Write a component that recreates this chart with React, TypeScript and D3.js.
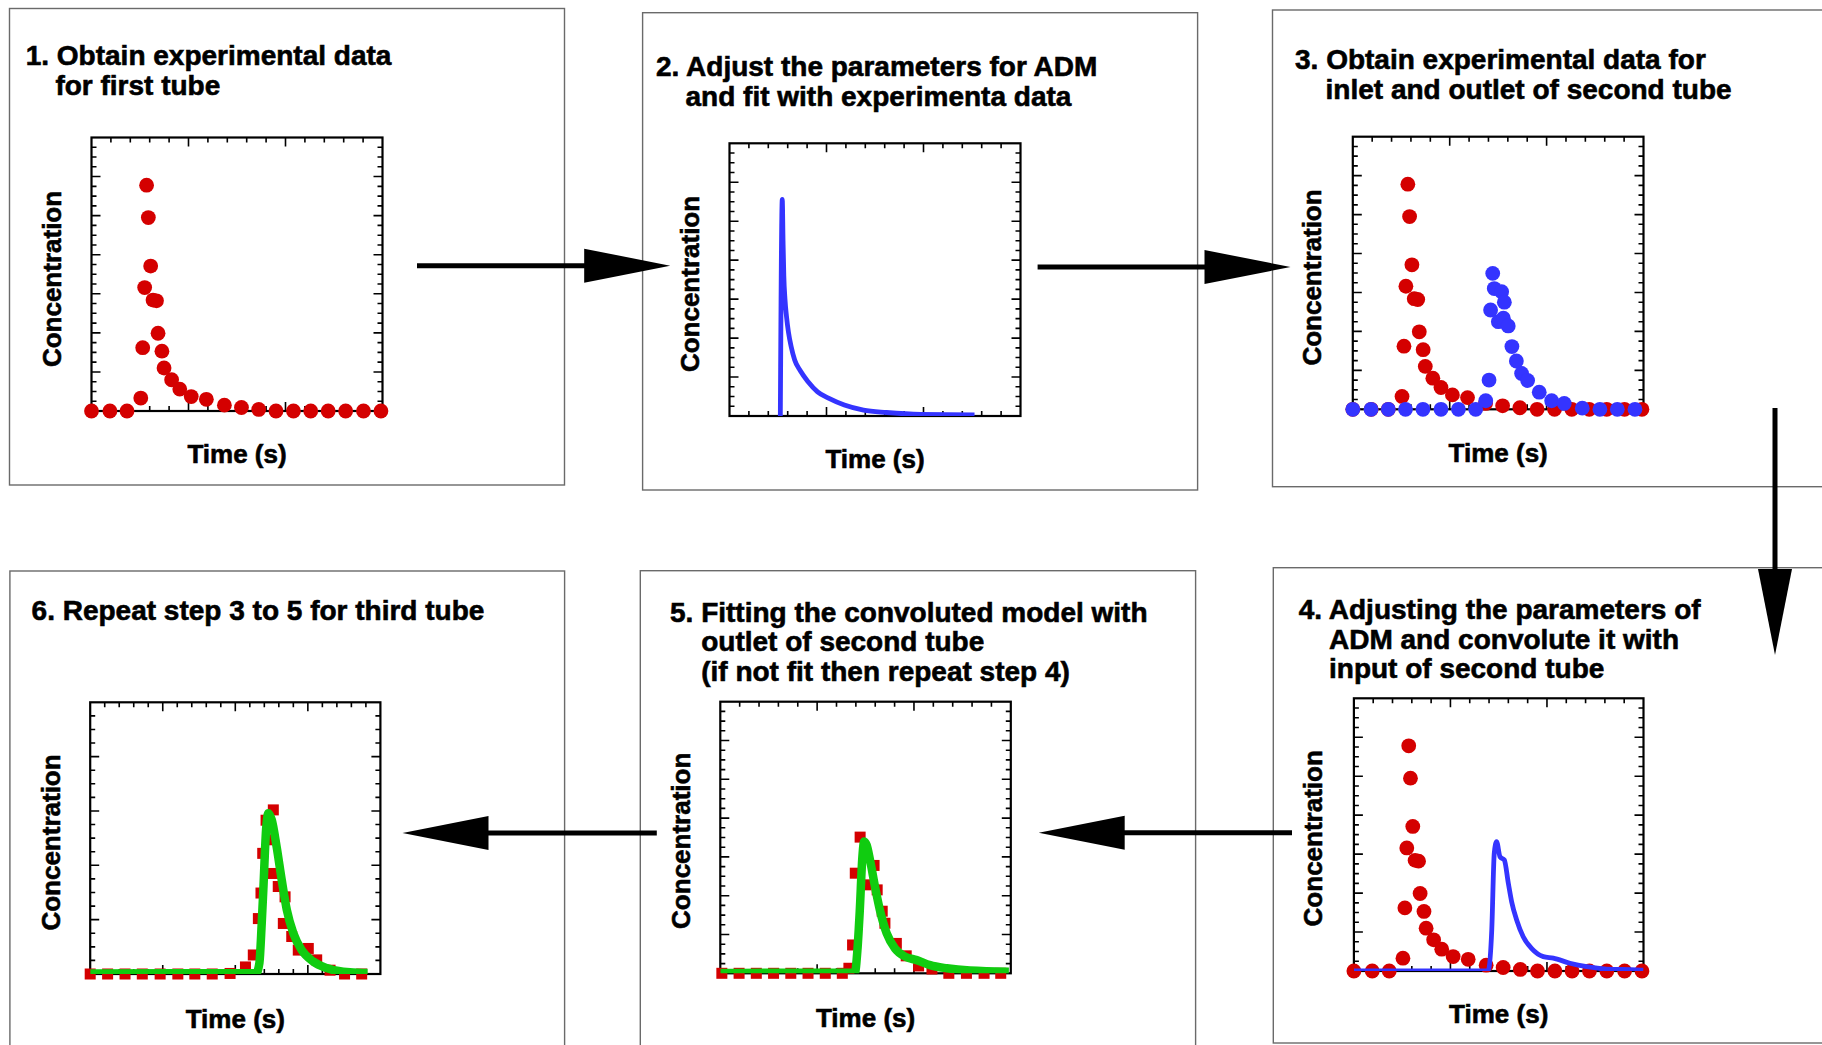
import React from "react";
import * as d3 from "d3";

const FONT = "'Liberation Sans', Arial, Helvetica, sans-serif";
const RED = "#d40000";
const BLUE = "#3434ff";
const GREEN = "#10cc10";

// Inlet pulse measured at the first tube / inlet of the second tube
const inletTime = [0, 0.95, 1.83, 2.54, 2.64, 2.74, 2.84, 2.93, 3.05, 3.17, 3.35, 3.43, 3.63, 3.74, 4.13, 4.55, 5.14, 5.92, 6.85, 7.73, 8.62, 9.51, 10.41, 11.3, 12.2, 13.1, 14.02, 14.92];
const inletConc = [0, 0, 0, 0.33, 1.62, 3.16, 5.78, 4.95, 3.71, 2.84, 2.82, 1.99, 1.53, 1.1, 0.8, 0.56, 0.37, 0.3, 0.15, 0.09, 0.04, 0, 0, 0, 0, 0, 0, 0];

// Outlet of the second tube
const outletTime = [0, 0.94, 1.83, 2.72, 3.62, 4.55, 5.45, 6.34, 6.86, 7.03, 7.11, 7.22, 7.3, 7.51, 7.68, 7.77, 7.82, 8.02, 8.21, 8.44, 8.71, 9.02, 9.62, 10.26, 10.91, 11.84, 12.75, 13.65, 14.56];
const outletConc = [0, 0, 0, 0, 0, 0, 0, 0, 0.22, 0.75, 2.55, 3.49, 3.1, 2.25, 3.02, 2.34, 2.75, 2.14, 1.61, 1.24, 0.92, 0.74, 0.44, 0.22, 0.15, 0.03, 0, 0, 0];

// ADM response fitted to the first tube
const admTime = [2.62, 2.72, 2.76, 2.8, 2.86, 2.94, 3.04, 3.18, 3.36, 3.65, 4.05, 4.54, 5.13, 5.92, 6.91, 8.09, 9.87, 12.63];
const admConc = [0, 5.56, 4.5, 3.6, 3.0, 2.55, 2.15, 1.78, 1.44, 1.16, 0.88, 0.62, 0.45, 0.28, 0.15, 0.09, 0.04, 0.03];

// ADM convoluted with the inlet of the second tube
const convTime = [0, 6.9, 6.97, 7.14, 7.27, 7.39, 7.57, 7.79, 8.0, 8.17, 8.43, 8.77, 9.2, 9.81, 10.33, 11.19, 12.06, 13.09, 14.65, 15];
const convConc = [0, 0, 0.03, 1.05, 3.02, 3.32, 2.93, 2.85, 2.25, 1.78, 1.31, 0.88, 0.58, 0.37, 0.33, 0.2, 0.11, 0.05, 0.03, 0.02];

// Second tube outlet (measured) and the fitted convoluted model
const tube2Time = [0.08, 0.97, 1.86, 2.75, 3.64, 4.53, 5.42, 6.3, 6.64, 6.83, 6.97, 7.22, 7.52, 7.94, 8.1, 8.36, 8.5, 9.09, 9.6, 10.24, 10.93, 11.8, 12.71, 13.62, 14.48];
const tube2Conc = [0, 0, 0, 0, 0, 0, 0, 0, 0.13, 0.73, 2.58, 3.51, 2.28, 2.78, 2.15, 1.6, 1.29, 0.77, 0.45, 0.19, 0.11, 0, 0, 0, 0];
const fit2Time = [0, 6.95, 7.08, 7.2, 7.33, 7.43, 7.56, 7.73, 7.99, 8.24, 8.59, 9.02, 9.54, 10.14, 10.83, 11.69, 12.89, 14.9];
const fit2Conc = [0.01, 0.02, 0.6, 1.6, 2.95, 3.4, 3.3, 2.92, 2.23, 1.63, 1.03, 0.64, 0.43, 0.34, 0.21, 0.13, 0.07, 0.04];

// Third tube outlet (measured) and the fitted model
const tube3Time = [0, 1.2, 2.4, 3.59, 4.82, 6.04, 7.21, 8.41, 9.64, 10.7, 11.24, 11.59, 11.77, 11.89, 12.12, 12.51, 12.62, 12.62, 12.96, 13.31, 13.43, 13.89, 14.34, 15.03, 15.61, 16.53, 17.53, 18.71];
const tube3Conc = [0, 0, 0, 0, 0, 0, 0, 0, 0.01, 0.13, 0.35, 1.02, 1.49, 2.22, 2.83, 2.47, 3.02, 1.85, 1.61, 0.93, 1.42, 0.69, 0.44, 0.47, 0.26, 0.07, 0, 0];
const fit3Time = [0, 11.45, 11.66, 11.82, 11.93, 12.12, 12.28, 12.51, 12.85, 13.2, 13.55, 14.0, 14.57, 15.37, 16.29, 17.44, 18.81, 19.12];
const fit3Conc = [0.01, 0.02, 0.2, 0.93, 1.54, 2.65, 2.96, 2.84, 2.34, 1.73, 1.18, 0.75, 0.44, 0.23, 0.11, 0.04, 0.02, 0.02];

const titles1 = ["1. Obtain experimental data", "for first tube"];
const titles2 = ["2. Adjust the parameters for ADM", "and fit with experimenta data"];
const titles3 = ["3. Obtain experimental data for", "inlet and outlet of second tube"];
const titles4 = ["4. Adjusting the parameters of", "ADM and convolute it with", "input of second tube"];
const titles5 = ["5. Fitting the convoluted model with", "outlet of second tube", "(if not fit then repeat step 4)"];
const titles6 = ["6. Repeat step 3 to 5 for third tube"];

const Y_LABEL = "Concentration";
const X_LABEL = "Time (s)";

type Rect = { x: number; y: number; w: number; h: number };
type Layer = {
  kind: "dots" | "squares" | "line";
  t: number[];
  c: number[];
  color: string;
};

interface PanelSpec {
  id: string;
  box: Rect;
  plot: Rect;
  xMax: number;
  yMax: number;
  title: string[];
  titleX: [number, number];
  titleY: number;
  yLabelX: number;
  yLabelY: number;
  xLabelY: number;
  layers: Layer[];
}

const panels: PanelSpec[] = [
  {
    id: "p1",
    box: { x: 9.5, y: 8.5, w: 555, h: 476.5 },
    plot: { x: 91.5, y: 137.5, w: 291, h: 273.5 },
    xMax: 15, yMax: 7,
    title: titles1, titleX: [25.7, 55.4], titleY: 65,
    yLabelX: 60.5, yLabelY: 279, xLabelY: 463,
    layers: [{ kind: "dots", t: inletTime, c: inletConc, color: RED }],
  },
  {
    id: "p2",
    box: { x: 642.6, y: 12.7, w: 555, h: 477.3 },
    plot: { x: 729.5, y: 143.3, w: 291, h: 272.7 },
    xMax: 15, yMax: 7,
    title: titles2, titleX: [656, 685.5], titleY: 76,
    yLabelX: 699, yLabelY: 284, xLabelY: 468,
    layers: [{ kind: "line", t: admTime, c: admConc, color: BLUE }],
  },
  {
    id: "p3",
    box: { x: 1272.5, y: 10, w: 600, h: 476.7 },
    plot: { x: 1352.8, y: 136.7, w: 290.7, h: 272.6 },
    xMax: 15, yMax: 7,
    title: titles3, titleX: [1295, 1325.6], titleY: 69.3,
    yLabelX: 1321, yLabelY: 277.5, xLabelY: 461.7,
    layers: [
      { kind: "dots", t: inletTime, c: inletConc, color: RED },
      { kind: "dots", t: outletTime, c: outletConc, color: BLUE },
    ],
  },
  {
    id: "p4",
    box: { x: 1273.3, y: 567.7, w: 600, h: 475.3 },
    plot: { x: 1353.9, y: 698.3, w: 289.6, h: 272.7 },
    xMax: 15, yMax: 7,
    title: titles4, titleX: [1298.7, 1329], titleY: 619.3,
    yLabelX: 1322, yLabelY: 838.3, xLabelY: 1023.3,
    layers: [
      { kind: "dots", t: inletTime, c: inletConc, color: RED },
      { kind: "line", t: convTime, c: convConc, color: BLUE },
    ],
  },
  {
    id: "p5",
    box: { x: 640.3, y: 570.7, w: 555.3, h: 600 },
    plot: { x: 720.3, y: 701.7, w: 290.5, h: 271.6 },
    xMax: 15, yMax: 7,
    title: titles5, titleX: [670, 701.2], titleY: 621.7,
    yLabelX: 690, yLabelY: 840.8, xLabelY: 1026.7,
    layers: [
      { kind: "squares", t: tube2Time, c: tube2Conc, color: RED },
      { kind: "line", t: fit2Time, c: fit2Conc, color: GREEN },
    ],
  },
  {
    id: "p6",
    box: { x: 9.9, y: 571, w: 554.7, h: 600 },
    plot: { x: 90.2, y: 702.3, w: 290.2, h: 271.7 },
    xMax: 20, yMax: 5,
    title: titles6, titleX: [31.6, 31.6], titleY: 620,
    yLabelX: 60, yLabelY: 842.5, xLabelY: 1028.3,
    layers: [
      { kind: "squares", t: tube3Time, c: tube3Conc, color: RED },
      { kind: "line", t: fit3Time, c: fit3Conc, color: GREEN },
    ],
  },
];

// Flow arrows between the steps (tail -> tip)
const arrows = [
  { x1: 417, y1: 265.7, x2: 670.2, y2: 265.7 },
  { x1: 1037.6, y1: 267, x2: 1290.5, y2: 267 },
  { x1: 1775, y1: 408, x2: 1775, y2: 655 },
  { x1: 1292, y1: 832.7, x2: 1038.7, y2: 832.7 },
  { x1: 656.8, y1: 833, x2: 402.5, y2: 833 },
];
const HEAD_LEN = 86;
const HEAD_HALF = 17;

const textStyle = {
  fontFamily: FONT,
  fontWeight: "bold" as const,
  fill: "#000",
  stroke: "#000",
  strokeWidth: 0.6,
};

function Arrow({ a }: { a: (typeof arrows)[number] }) {
  const dx = a.x2 - a.x1;
  const dy = a.y2 - a.y1;
  const len = Math.hypot(dx, dy);
  const ux = dx / len;
  const uy = dy / len;
  const bx = a.x2 - ux * HEAD_LEN;
  const by = a.y2 - uy * HEAD_LEN;
  const px = -uy * HEAD_HALF;
  const py = ux * HEAD_HALF;
  const head = `M${a.x2},${a.y2}L${bx + px},${by + py}L${bx - px},${by - py}Z`;
  return (
    <g>
      <line x1={a.x1} y1={a.y1} x2={bx + ux * 2} y2={by + uy * 2} stroke="#000" strokeWidth={5} />
      <path d={head} fill="#000" />
    </g>
  );
}

function Panel({ spec }: { spec: PanelSpec }) {
  const p = spec.plot;
  const x = d3.scaleLinear().domain([0, spec.xMax]).range([p.x, p.x + p.w]);
  const y = d3.scaleLinear().domain([0, spec.yMax]).range([p.y + p.h, p.y]);
  const xTicks = d3.range(1, spec.xMax);
  const yTicks = d3.range(1, spec.yMax * 4).map((i) => i / 4);
  const lineGen = d3
    .line<[number, number]>()
    .x((d) => x(d[0]))
    .y((d) => y(d[1]))
    .curve(d3.curveMonotoneX);
  const clipId = `clip-${spec.id}`;
  const x0 = x(0), x1 = x(spec.xMax), y0 = y(0), y1 = y(spec.yMax);

  const tickPath: string[] = [];
  xTicks.forEach((t) => {
    const len = t % 5 === 0 ? 9 : 5;
    const xx = x(t);
    tickPath.push(`M${xx},${y0}V${y0 - len}`, `M${xx},${y1}V${y1 + len}`);
  });
  yTicks.forEach((v) => {
    const len = Number.isInteger(v) ? 9 : 5;
    const yy = y(v);
    tickPath.push(`M${x0},${yy}H${x0 + len}`, `M${x1},${yy}H${x1 - len}`);
  });

  return (
    <g>
      <rect x={spec.box.x} y={spec.box.y} width={spec.box.w} height={spec.box.h} fill="none" stroke="#6a6a6a" strokeWidth={1.4} />
      <defs>
        <clipPath id={clipId}>
          <rect x={p.x} y={p.y} width={p.w} height={p.h} />
        </clipPath>
      </defs>
      {spec.title.map((s, i) => (
        <text key={i} x={i === 0 ? spec.titleX[0] : spec.titleX[1]} y={spec.titleY + i * 29.5} fontSize={28} {...textStyle}>
          {s}
        </text>
      ))}
      <path d={tickPath.join("")} stroke="#000" strokeWidth={1.6} fill="none" />
      <rect x={x0} y={y1} width={x1 - x0} height={y0 - y1} fill="none" stroke="#000" strokeWidth={2.2} />
      {spec.layers.map((l, li) => {
        const pts = l.t.map((t, i) => [t, l.c[i]] as [number, number]);
        if (l.kind === "dots") {
          return (
            <g key={li} fill={l.color}>
              {pts.map((d, i) => (
                <circle key={i} cx={x(d[0])} cy={y(d[1])} r={7.4} />
              ))}
            </g>
          );
        }
        if (l.kind === "squares") {
          return (
            <g key={li} fill={l.color}>
              {pts.map((d, i) => (
                <rect key={i} x={x(d[0]) - 5.5} y={y(d[1]) - 5.5} width={11} height={11} />
              ))}
            </g>
          );
        }
        return (
          <path
            key={li}
            d={lineGen(pts) || ""}
            fill="none"
            stroke={l.color}
            strokeWidth={l.color === GREEN ? 8.5 : 4.8}
            strokeLinejoin="round"
            clipPath={`url(#${clipId})`}
          />
        );
      })}
      <text
        transform={`translate(${spec.yLabelX},${spec.yLabelY}) rotate(-90)`}
        textAnchor="middle"
        fontSize={26}
        {...textStyle}
      >
        {Y_LABEL}
      </text>
      <text x={(x0 + x1) / 2} y={spec.xLabelY} textAnchor="middle" fontSize={26} {...textStyle}>
        {X_LABEL}
      </text>
    </g>
  );
}

export default function App() {
  return (
    <svg
      width={1822}
      height={1045}
      viewBox="0 0 1822 1045"
      style={{ position: "absolute", left: 0, top: 0, display: "block", background: "#fff" }}
    >
      <rect x={0} y={0} width={1822} height={1045} fill="#fff" />
      {panels.map((s) => (
        <Panel key={s.id} spec={s} />
      ))}
      {arrows.map((a, i) => (
        <Arrow key={i} a={a} />
      ))}
    </svg>
  );
}
